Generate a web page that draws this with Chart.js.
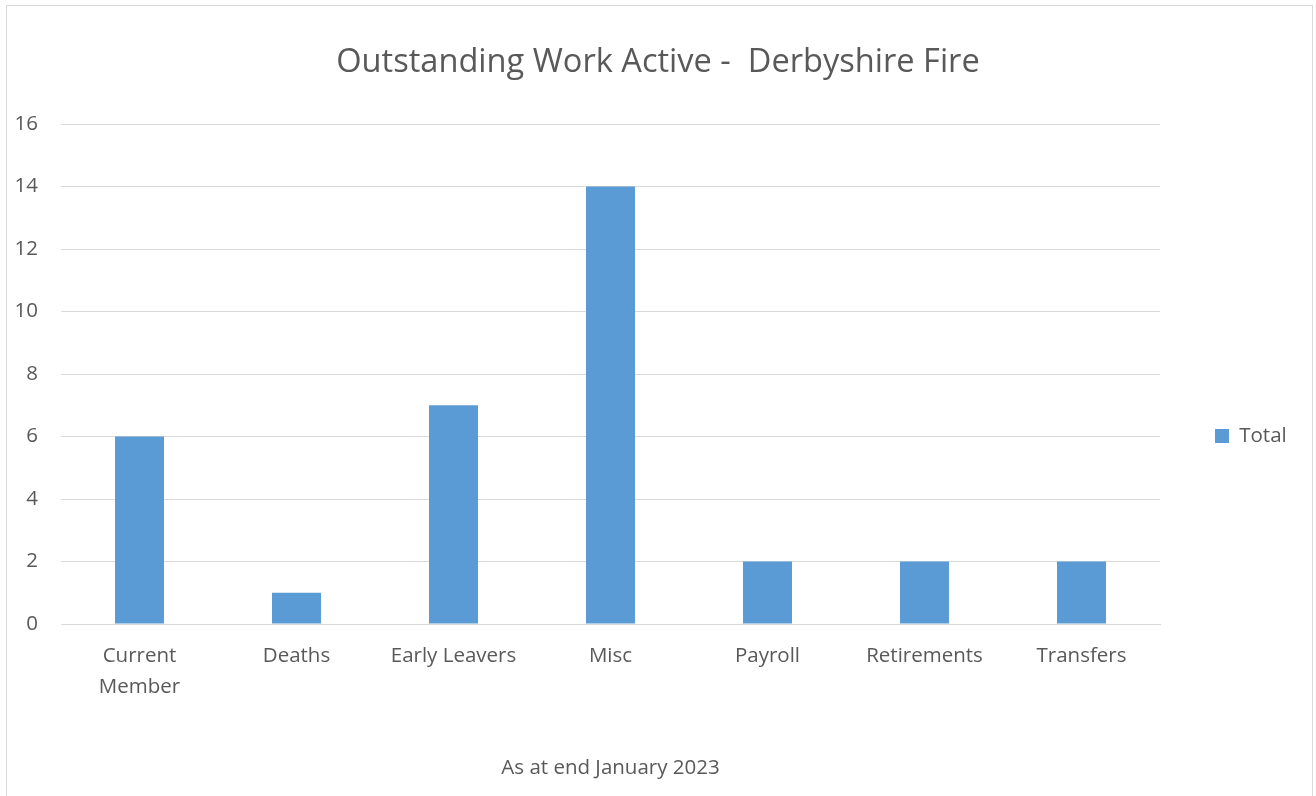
<!DOCTYPE html>
<html><head><meta charset="utf-8">
<script src="https://cdn.jsdelivr.net/npm/chart.js@4/dist/chart.umd.min.js"></script>
<style>
html,body{margin:0;padding:0;background:#fff;overflow:hidden}
#wrap{position:relative;width:1316px;height:796px}
#frame{position:absolute;left:6px;top:5px;width:1307px;height:830px;border:1px solid #D9D9D9;box-sizing:border-box}
canvas{position:absolute;left:0;top:0}
</style></head><body>
<div id="wrap"><div id="frame"></div><canvas id="c" width="1316" height="796"></canvas></div>
<script>
const titleText = 'Outstanding Work Active -  Derbyshire Fire';
const xAxisTitle = 'As at end January 2023';
const categories = [['Current', 'Member'], 'Deaths', 'Early Leavers', 'Misc', 'Payroll', 'Retirements', 'Transfers'];
const seriesName = 'Total';
const totals = [6, 1, 7, 14, 2, 2, 2];
const yTicks = [0, 2, 4, 6, 8, 10, 12, 14, 16];

function draw() {
  const FONT = "'Open Sans'";
  const TXT = '#595959';
  const GRID = '#D9D9D9';
  Chart.defaults.font.family = FONT;
  Chart.defaults.color = TXT;

  const legendPlacer = {
    id: 'legendPlacer',
    afterInit(chart) {
      const lg = chart.legend;
      const fit = lg.fit.bind(lg);
      lg.fit = function () { fit(); this.width = 156; };
    },
    afterLayout(chart) {
      const lg = chart.legend;
      lg.left = 1215; lg.right = 1316;
      lg.top = 425.75; lg.bottom = 446.25;
    }
  };

  new Chart(document.getElementById('c'), {
    type: 'bar',
    data: {
      labels: categories,
      datasets: [{
        label: seriesName,
        data: totals,
        backgroundColor: '#5B9BD5',
        borderWidth: 0,
        categoryPercentage: 1,
        barPercentage: 0.312
      }]
    },
    plugins: [legendPlacer],
    options: {
      responsive: false,
      animation: false,
      devicePixelRatio: 1,
      layout: { padding: 0 },
      plugins: {
        title: {
          display: true,
          text: titleText,
          color: TXT,
          font: { size: 32.6, weight: 'normal', family: FONT },
          padding: { top: 43, bottom: 41.9 }
        },
        legend: {
          display: true,
          position: 'right',
          align: 'start',
          labels: {
            boxWidth: 14, boxHeight: 14, padding: 0,
            color: TXT,
            font: { size: 20.5, family: FONT }
          }
        },
        tooltip: { enabled: false }
      },
      scales: {
        x: {
          grid: { display: false, drawTicks: false },
          border: { display: true, color: GRID },
          ticks: {
            color: TXT, padding: 17, maxRotation: 0, autoSkip: false,
            font: { size: 20.5, lineHeight: 1.49, family: FONT }
          },
          title: {
            display: true, text: xAxisTitle, color: TXT,
            font: { size: 20.5, family: FONT },
            padding: { top: 0, bottom: 16 }
          },
          afterFit(scale) { scale.height = 172; }
        },
        y: {
          min: 0, max: 16,
          grid: { color: GRID, lineWidth: 1, drawTicks: false },
          border: { display: false },
          ticks: {
            color: TXT, padding: 23,
            font: { size: 20.5, family: FONT }
          },
          afterBuildTicks(scale) { scale.ticks = yTicks.map(v => ({ value: v })); },
          afterFit(scale) { scale.width = 61; }
        }
      }
    }
  });
}
if (document.fonts && document.fonts.load) {
  document.fonts.load("20px 'Open Sans'").then(draw, draw);
} else { draw(); }
</script>
</body></html>
